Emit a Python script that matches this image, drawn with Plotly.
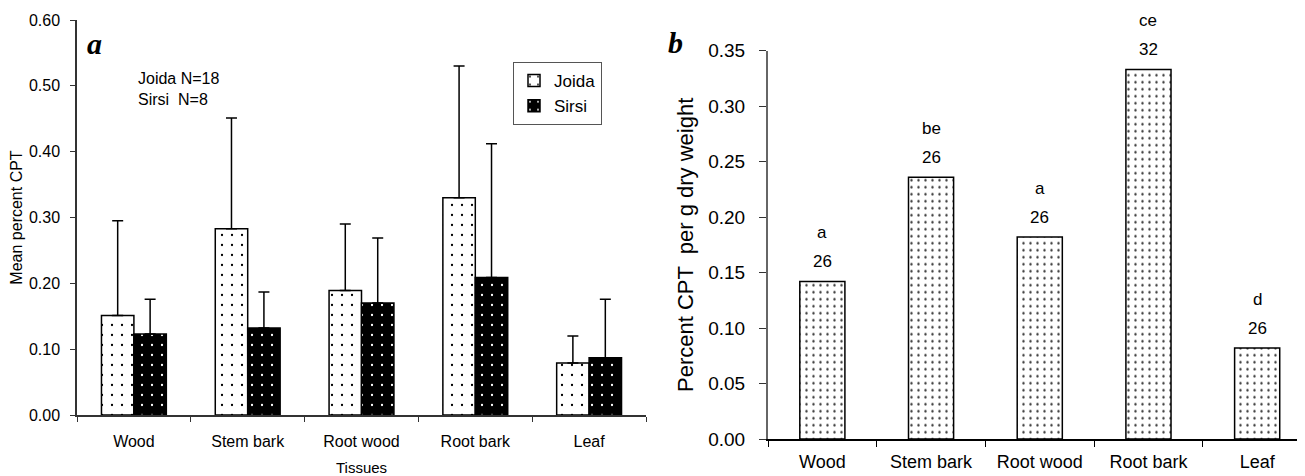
import plotly.graph_objects as go

# ---- Data ----
tissues = ["Wood", "Stem bark", "Root wood", "Root bark", "Leaf"]

# Panel a: mean percent CPT with upper error (SD)
joida_mean = [0.151, 0.283, 0.189, 0.330, 0.079]
joida_err_top = [0.295, 0.451, 0.290, 0.530, 0.120]
sirsi_mean = [0.123, 0.132, 0.170, 0.209, 0.087]
sirsi_err_top = [0.176, 0.187, 0.269, 0.412, 0.176]

# Panel b: percent CPT per g dry weight
pct_cpt = [0.142, 0.236, 0.182, 0.333, 0.082]
n_labels = ["26", "26", "26", "32", "26"]
sig_letters = ["a", "be", "a", "ce", "d"]

joida_plus = [t - m for t, m in zip(joida_err_top, joida_mean)]
sirsi_plus = [t - m for t, m in zip(sirsi_err_top, sirsi_mean)]

W, H = 1305, 476
OX, OY = 8, 8          # default page body margin
PW, PH = W - OX, H - OY
FONT = "Liberation Sans, Arial, sans-serif"

def px_x(p):
    return (p - OX) / PW

def px_y(p):
    return 1 - (p - OY) / PH

fig = go.Figure()

fig.add_trace(go.Bar(
    x=tissues, y=joida_mean, name="Joida",
    width=0.285, offset=-0.285,
    marker=dict(color="white", line=dict(color="black", width=1.5),
                pattern=dict(shape=".", bgcolor="white", fgcolor="black",
                             size=10, solidity=0.04)),
    error_y=dict(type="data", symmetric=False, array=joida_plus,
                 arrayminus=[0] * len(joida_plus), color="black",
                 thickness=1.5, width=5.5),
    xaxis="x", yaxis="y",
))
fig.add_trace(go.Bar(
    x=tissues, y=sirsi_mean, name="Sirsi",
    width=0.285, offset=0,
    marker=dict(color="black", line=dict(color="black", width=1.5),
                pattern=dict(shape=".", bgcolor="black", fgcolor="white",
                             size=10, solidity=0.04)),
    error_y=dict(type="data", symmetric=False, array=sirsi_plus,
                 arrayminus=[0] * len(sirsi_plus), color="black",
                 thickness=1.5, width=5.5),
    xaxis="x", yaxis="y",
))

fig.add_trace(go.Bar(
    x=tissues, y=pct_cpt, name="CPT", showlegend=False,
    width=0.415, offset=-0.2075,
    marker=dict(color="white", line=dict(color="black", width=1.5),
                pattern=dict(shape=".", bgcolor="white", fgcolor="#333333",
                             size=7, solidity=0.09)),
    xaxis="x2", yaxis="y2",
))

annotations = []
for t, v, n, s in zip(tissues, pct_cpt, n_labels, sig_letters):
    annotations.append(dict(x=t, y=v, xref="x2", yref="y2", text=n,
                            showarrow=False, yshift=20, yanchor="middle",
                            font=dict(family=FONT, size=17, color="black")))
    annotations.append(dict(x=t, y=v, xref="x2", yref="y2", text=s,
                            showarrow=False, yshift=49, yanchor="middle",
                            font=dict(family=FONT, size=17, color="black")))

annotations += [
    dict(x=px_x(94), y=px_y(44), xref="paper", yref="paper", text="<b><i>a</i></b>",
         showarrow=False, xanchor="center", yanchor="middle",
         font=dict(family="Liberation Serif, Times New Roman, serif", size=30, color="black")),
    dict(x=px_x(675), y=px_y(43), xref="paper", yref="paper", text="<b><i>b</i></b>",
         showarrow=False, xanchor="center", yanchor="middle",
         font=dict(family="Liberation Serif, Times New Roman, serif", size=30, color="black")),
    dict(x=px_x(136), y=px_y(78), xref="paper", yref="paper", text="Joida N=18",
         showarrow=False, xanchor="left", yanchor="middle",
         font=dict(family=FONT, size=16, color="black")),
    dict(x=px_x(136), y=px_y(100), xref="paper", yref="paper", text="Sirsi  N=8",
         showarrow=False, xanchor="left", yanchor="middle",
         font=dict(family=FONT, size=16, color="black")),
]

axis_font_a = dict(family=FONT, size=16, color="black")
axis_font_b = dict(family=FONT, size=19, color="black")

fig.update_layout(
    template="none",
    width=PW, height=PH,
    margin=dict(l=0, r=0, t=0, b=0),
    paper_bgcolor="white", plot_bgcolor="white",
    barmode="group",
    font=dict(family=FONT, color="black"),
    showlegend=True,
    legend=dict(x=px_x(513), y=px_y(62), xanchor="left", yanchor="top",
                bgcolor="white", bordercolor="#555555", borderwidth=1,
                font=dict(family=FONT, size=17, color="black"),
                itemwidth=30, tracegroupgap=0),
    xaxis=dict(domain=[px_x(77), px_x(646)], anchor="y", type="category",
               range=[-0.5, 4.5], showline=True, linecolor="#333333", linewidth=1.5,
               ticks="outside", tickson="boundaries", ticklen=5, tickcolor="#333333",
               tickwidth=1, showgrid=False, zeroline=False,
               tickfont=axis_font_a, ticklabelstandoff=11,
               title=dict(text="Tissues", font=dict(family=FONT, size=15, color="black"),
                          standoff=20)),
    yaxis=dict(domain=[px_y(415), px_y(20)], anchor="x", range=[0, 0.6],
               tickvals=[0, 0.1, 0.2, 0.3, 0.4, 0.5, 0.6], tickformat=".2f",
               showline=True, linecolor="#333333", linewidth=1.5,
               ticks="outside", ticklen=5, tickcolor="#333333", tickwidth=1,
               showgrid=False, zeroline=False, tickfont=axis_font_a,
               ticklabelstandoff=7,
               title=dict(text="Mean percent CPT", font=dict(family=FONT, size=16, color="black"),
                          standoff=5)),
    xaxis2=dict(domain=[px_x(768), 1.0], anchor="y2", type="category",
                range=[-0.5, 4.44], showline=True, linecolor="black", linewidth=1.5,
                ticks="outside", tickson="boundaries", ticklen=6, tickcolor="black",
                tickwidth=1, showgrid=False, zeroline=False,
                tickfont=dict(family=FONT, size=18, color="black"), ticklabelstandoff=6),
    yaxis2=dict(domain=[px_y(439), px_y(50.7)], anchor="x2", range=[0, 0.35],
                tickvals=[0, 0.05, 0.1, 0.15, 0.2, 0.25, 0.3, 0.35], tickformat=".2f",
                showline=True, linecolor="#666666", linewidth=2,
                ticks="outside", ticklen=7, tickcolor="#333333", tickwidth=1,
                showgrid=False, zeroline=False, tickfont=axis_font_b,
                ticklabelstandoff=10,
                title=dict(text="Percent CPT  per g dry weight",
                           font=dict(family=FONT, size=22, color="black"), standoff=9)),
    annotations=annotations,
)

fig.write_html("out.html")
